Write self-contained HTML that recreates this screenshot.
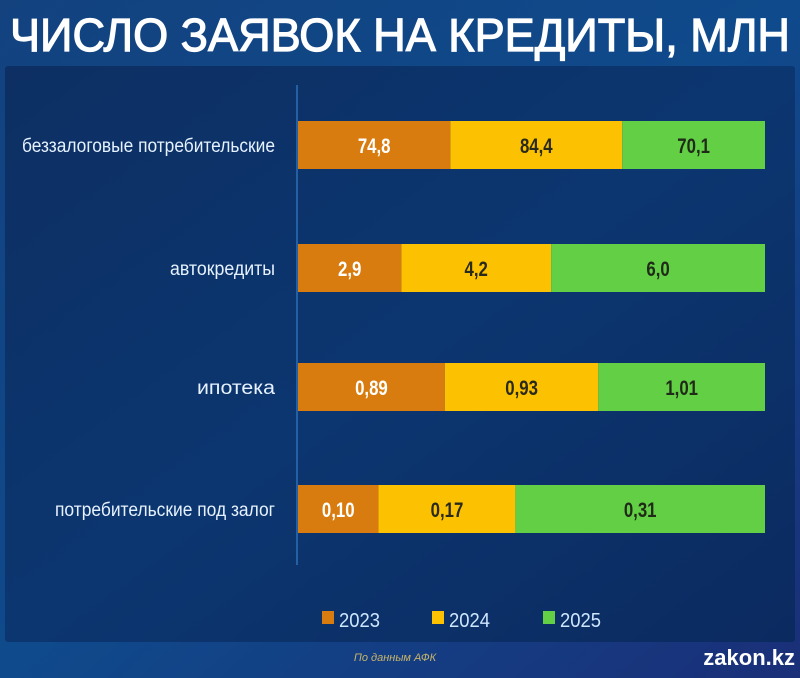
<!DOCTYPE html>
<html><head><meta charset="utf-8"><style>
html,body{margin:0;padding:0;width:800px;height:678px;overflow:hidden;background:#0f3d78}
svg{display:block}
text{font-family:"Liberation Sans","DejaVu Sans",sans-serif}
</style></head><body>
<svg id="chart" width="800" height="678" viewBox="0 0 800 678">
<defs>
<linearGradient id="bg" x1="0" y1="0" x2="1" y2="1">
<stop offset="0" stop-color="#13427f"/><stop offset="0.5" stop-color="#0f4a8c"/><stop offset="1" stop-color="#1a2f78"/></linearGradient>
<linearGradient id="panel" x1="0" y1="0" x2="1" y2="1">
<stop offset="0" stop-color="#0d2f63"/><stop offset="0.5" stop-color="#0c3670"/><stop offset="1" stop-color="#0b2a60"/></linearGradient>
</defs>
<rect width="800" height="678" fill="url(#bg)"/>
<rect x="5" y="66" width="790" height="576" rx="3" fill="url(#panel)"/>
<text x="10" y="51" font-size="46" font-weight="normal" fill="#fff" stroke="#fff" stroke-width="1.2" textLength="780" lengthAdjust="spacingAndGlyphs">ЧИСЛО ЗАЯВОК НА КРЕДИТЫ, МЛН</text>
<line x1="297" y1="85" x2="297" y2="565" stroke="#2c6fb8" stroke-width="1.5"/>
<g id="bars"></g>
<g id="legend"></g>
<text x="395" y="661" font-size="11" font-style="italic" fill="#c8b56a" text-anchor="middle">По данным АФК</text>
<text x="795" y="665" font-size="22" font-weight="bold" fill="#fff" text-anchor="end">zakon.kz</text>
</svg>
<script>
const categories = ["беззалоговые потребительские","автокредиты","ипотека","потребительские под залог"];
const labels2023 = ["74,8","2,9","0,89","0,10"];
const labels2024 = ["84,4","4,2","0,93","0,17"];
const labels2025 = ["70,1","6,0","1,01","0,31"];
const values2023 = [74.8,2.9,0.89,0.10];
const values2024 = [84.4,4.2,0.93,0.17];
const values2025 = [70.1,6.0,1.01,0.31];
const seriesNames = ["2023","2024","2025"];
const colors = ["#d97c0f","#fcc201","#62cf45"];
const textColors = ["#fff","#2a2a1a","#1f2a18"];
const NS="http://www.w3.org/2000/svg";
const x0=298, plotW=467;
const rowY=[121,244,363,485], barH=48;
function xScale(frac){return x0+frac*plotW;}
const g=document.getElementById('bars');
const labelW=[253,105,78,220];
categories.forEach((c,i)=>{
  const vals=[values2023[i],values2024[i],values2025[i]];
  const labs=[labels2023[i],labels2024[i],labels2025[i]];
  const tot=vals.reduce((a,b)=>a+b,0);
  let acc=0;
  const y=rowY[i];
  const t=document.createElementNS(NS,'text');
  t.setAttribute('x',275);t.setAttribute('y',y+barH/2+7);t.setAttribute('font-size','19');
  t.setAttribute('fill','#e6f2ff');t.setAttribute('text-anchor','end');
  t.setAttribute('textLength',labelW[i]);t.setAttribute('lengthAdjust','spacingAndGlyphs');
  t.textContent=c;
  
  
  g.appendChild(t);
  vals.forEach((v,s)=>{
    const xa=xScale(acc/tot); acc+=v; const xb=xScale(acc/tot);
    const r=document.createElementNS(NS,'rect');
    r.setAttribute('x',xa);r.setAttribute('y',y);r.setAttribute('width',xb-xa);r.setAttribute('height',barH);
    r.setAttribute('fill',colors[s]);
    
    
    g.appendChild(r);
    const vt=document.createElementNS(NS,'text');
    vt.setAttribute('x',(xa+xb)/2);vt.setAttribute('y',y+barH/2+8);vt.setAttribute('font-size','21');
    vt.setAttribute('font-weight','bold');vt.setAttribute('fill',textColors[s]);vt.setAttribute('text-anchor','middle');
    vt.setAttribute('transform','translate('+((xa+xb)/2)+',0) scale(0.8,1) translate('+(-(xa+xb)/2)+',0)');
    vt.textContent=labs[s];
    
    
    g.appendChild(vt);
  });
});
const lg=document.getElementById('legend');
const legX=[322,432,543];
seriesNames.forEach((n,s)=>{
  const r=document.createElementNS(NS,'rect');
  r.setAttribute('x',legX[s]);r.setAttribute('y',611);r.setAttribute('width',12);r.setAttribute('height',13);
  r.setAttribute('fill',colors[s]);
  
  
  lg.appendChild(r);
  const t=document.createElementNS(NS,'text');
  t.setAttribute('x',legX[s]+17);t.setAttribute('y',627);t.setAttribute('font-size','20');
  t.setAttribute('fill','#cfe6ff');t.setAttribute('textLength','41');t.setAttribute('lengthAdjust','spacingAndGlyphs');
  t.textContent=n;
  
  
  lg.appendChild(t);
});
</script>
</body></html>
